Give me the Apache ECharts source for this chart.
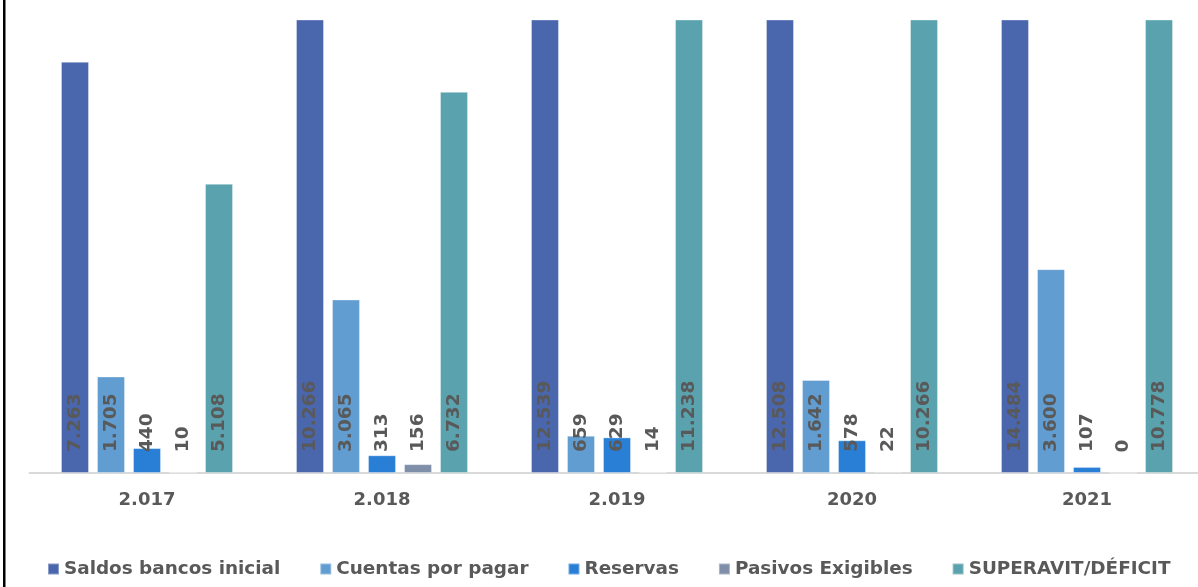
<!DOCTYPE html>
<html>
<head>
<meta charset="utf-8">
<script src="https://cdn.jsdelivr.net/npm/echarts@6/dist/echarts.min.js"></script>
<style>
html,body{margin:0;padding:0;background:#fff;}
#chart{width:1198px;height:587px;}
</style>
</head>
<body>
<div id="chart"></div>
<script>
const categories = ['2.017', '2.018', '2.019', '2020', '2021'];
const seriesNames = ['Saldos bancos inicial', 'Cuentas por pagar', 'Reservas', 'Pasivos Exigibles', 'SUPERAVIT/DÉFICIT'];
const saldosBancos = [7263, 10266, 12539, 12508, 14484];
const cuentasPorPagar = [1705, 3065, 659, 1642, 3600];
const reservas = [440, 313, 629, 578, 107];
const pasivosExigibles = [10, 156, 14, 22, 0];
const superavit = [5108, 6732, 11238, 10266, 10778];
const colors = ['#4A66AC', '#629DD1', '#297FD5', '#7F8FA9', '#5AA2AE'];

const seriesData = [saldosBancos, cuentasPorPagar, reservas, pasivosExigibles, superavit];
const txt = '#595959';
const fmt = v => String(v).replace(/\B(?=(\d{3})+(?!\d))/g, '.');

const chart = echarts.init(document.getElementById('chart'), null, {renderer: 'canvas'});
chart.setOption({
  animation: false,
  backgroundColor: '#ffffff',
  textStyle: {fontFamily: 'DejaVu Sans'},
  graphic: [{
    type: 'rect', left: 3, top: 0,
    shape: {width: 2.5, height: 587},
    style: {fill: '#000'}
  }],
  legend: {
    left: 47, top: 560, padding: 0,
    itemWidth: 11, itemHeight: 11, itemGap: 39,
    icon: 'rect',
    textStyle: {color: txt, fontSize: 18.4, fontWeight: 'bold', fontFamily: 'DejaVu Sans'},
    data: seriesNames
  },
  grid: {left: 29.5, top: 20, width: 1175, bottom: 114, containLabel: false, outerBoundsMode: 'none'},
  xAxis: {
    type: 'category',
    data: categories,
    axisLine: {lineStyle: {color: '#D9D9D9', width: 2}},
    axisTick: {show: false},
    axisLabel: {color: txt, fontSize: 18, fontWeight: 'bold', margin: 18, fontFamily: 'DejaVu Sans'}
  },
  yAxis: {
    type: 'value', min: 0, max: 8000, show: false,
    splitLine: {show: false}
  },
  series: seriesNames.map((name, i) => ({
    name: name,
    type: 'bar',
    data: seriesData[i],
    barWidth: 28,
    barGap: '28.6%',
    clip: true,
    itemStyle: {color: colors[i], borderColor: 'rgba(255,255,255,0.35)', borderWidth: 1},
    label: {
      show: true,
      position: 'insideBottom',
      distance: 21,
      rotate: 90,
      align: 'left',
      verticalAlign: 'middle',
      color: txt,
      fontSize: 18.5,
      fontWeight: 'bold',
      fontFamily: 'DejaVu Sans',
      formatter: p => fmt(p.value)
    }
  }))
});
</script>
</body>
</html>
